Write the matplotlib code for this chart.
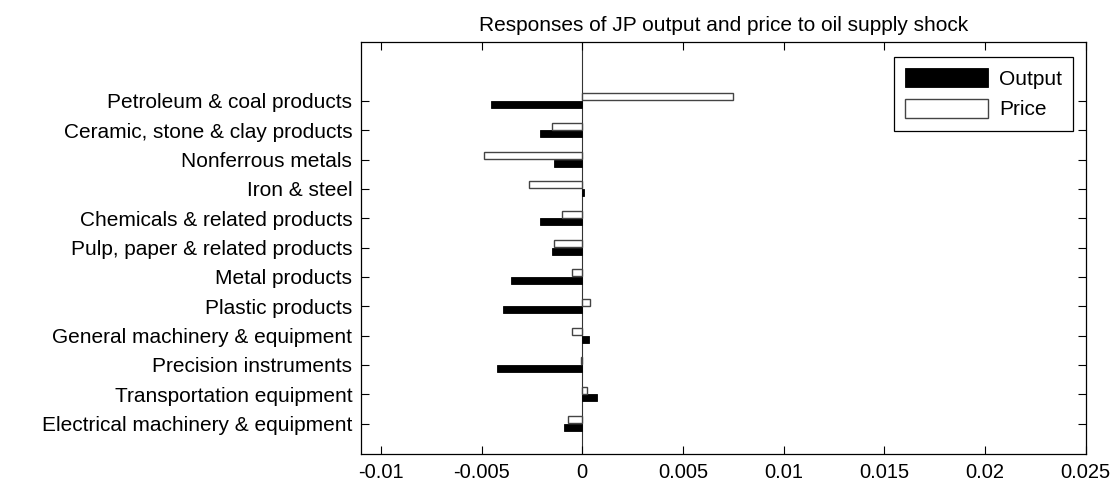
import numpy as np
import matplotlib
matplotlib.use("Agg")
import matplotlib.pyplot as plt

plt.rcParams['font.family'] = ['Liberation Sans', 'DejaVu Sans']

# categories listed bottom to top
sectors = [
    'Electrical machinery & equipment',
    'Transportation equipment',
    'Precision instruments',
    'General machinery & equipment',
    'Plastic products',
    'Metal products',
    'Pulp, paper & related products',
    'Chemicals & related products',
    'Iron & steel',
    'Nonferrous metals',
    'Ceramic, stone & clay products',
    'Petroleum & coal products',
]
output = [-0.00092, 0.00071, -0.00422, 0.00032, -0.00393, -0.00353,
          -0.00152, -0.00211, 0.0001, -0.00142, -0.00211, -0.00452]
price = [-0.00072, 0.00022, -0.00005, -0.00053, 0.00038, -0.00053,
         -0.00142, -0.00102, -0.00262, -0.0049, -0.00152, 0.00748]

xticks = [-0.01, -0.005, 0, 0.005, 0.01, 0.015, 0.02, 0.025]
xticklabels = ['-0.01', '-0.005', '0', '0.005', '0.01', '0.015', '0.02', '0.025']

fig = plt.figure(figsize=(11.15, 4.91), dpi=100)
ax = fig.add_axes([0.3235, 0.0747, 0.6502, 0.8392])

pos = np.arange(1, len(sectors) + 1)
h = 0.24
ax.barh(pos - h, output, height=h, align='edge', color='black',
        edgecolor='black', linewidth=0.6, label='Output')
ax.barh(pos + 0.02, price, height=h, align='edge', color='white',
        edgecolor='#444444', linewidth=1.0, label='Price')
ax.axvline(0, color='#333333', linewidth=0.8, zorder=0.5)

ax.set_xlim(-0.011, 0.025)
ax.set_ylim(-0.05, 14)
ax.set_xticks(xticks)
ax.set_xticklabels(xticklabels, fontsize=14.5)
ax.set_yticks(pos)
ax.set_yticklabels(sectors, fontsize=15)
ax.tick_params(direction='in', length=6, width=0.8, top=True, right=True, pad=6)
for s in ax.spines.values():
    s.set_linewidth(0.9)

ax.set_title('Responses of JP output and price to oil supply shock', fontsize=15, pad=8)

leg = ax.legend(loc='upper right', bbox_to_anchor=(0.983, 0.965), fontsize=15,
                handlelength=4.0, handleheight=1.0, handletextpad=0.5,
                fancybox=False, framealpha=1, edgecolor='black',
                borderpad=0.55, labelspacing=0.5, borderaxespad=0)
leg.get_frame().set_linewidth(0.9)

fig.savefig('out.png', dpi=100)
